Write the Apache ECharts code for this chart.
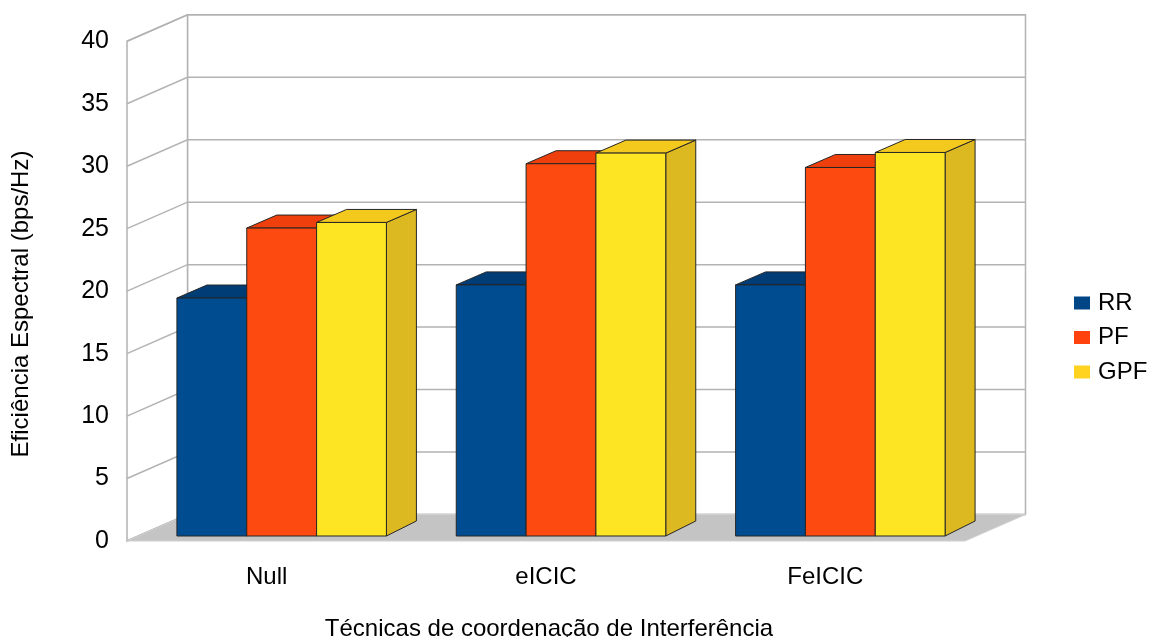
<!DOCTYPE html>
<html>
<head>
<meta charset="utf-8">
<title>Eficiência Espectral</title>
<script src="https://cdn.jsdelivr.net/npm/echarts@6/dist/echarts.min.js"></script>
<style>
  html, body { margin: 0; padding: 0; background: #fff; }
  #chart { width: 1154px; height: 637px; }
</style>
</head>
<body>
<div id="chart"></div>
<script>
// Chart data
const categories = ['Null', 'eICIC', 'FeICIC'];
const seriesNames = ['RR', 'PF', 'GPF'];
const rrValues = [19.05, 20.1, 20.1];
const pfValues = [24.65, 29.8, 29.5];
const gpfValues = [25.1, 30.65, 30.7];
const yTicks = [0, 5, 10, 15, 20, 25, 30, 35, 40];
const xTitle = 'Técnicas de coordenação de Interferência';
const yTitle = 'Eficiência Espectral (bps/Hz)';

// Shading of the three visible faces of each box
const palette = [
  { legend: '#004586', front: '#004c91', top: '#003d76', side: '#00376a' },
  { legend: '#ff420e', front: '#fd4a10', top: '#ef3f0c', side: '#d23a0b' },
  { legend: '#ffd320', front: '#fde523', top: '#f3c91e', side: '#dcb920' }
];

const FONT = '"Liberation Sans", Arial, sans-serif';
const WALL_DEPTH = [60.5, -26.5];   // receding vector of the chart box
const BAR_SHIFT = [15, -5];         // front face of the bars sits inside the box
const BAR_TOP_DEPTH = [30, -13];
const BAR_BOTTOM_DEPTH = [30, -15];
const LINE = '#b3b3b3';
const EDGE = '#262626';

function plotFrame(api) {
  const band = api.size([1, 0])[0];
  const x0 = api.coord([0, 0])[0] - band / 2;
  const x1 = api.coord([categories.length - 1, 0])[0] + band / 2;
  const y0 = api.coord([0, yTicks[0]])[1];
  const yMax = api.coord([0, yTicks[yTicks.length - 1]])[1];
  return { band, x0, x1, y0, yMax };
}

// Back wall, side wall and floor
function renderBox(params, api) {
  const f = plotFrame(api);
  const [dx, dy] = WALL_DEPTH;
  const children = [
    {
      type: 'polygon',
      shape: { points: [[f.x0 + dx, f.yMax + dy], [f.x1 + dx, f.yMax + dy], [f.x1 + dx, f.y0 + dy], [f.x0 + dx, f.y0 + dy]] },
      style: { fill: '#ffffff', stroke: LINE, lineWidth: 1.5 }
    },
    {
      type: 'polygon',
      shape: { points: [[f.x0, f.y0], [f.x0, f.yMax], [f.x0 + dx, f.yMax + dy], [f.x0 + dx, f.y0 + dy]] },
      style: { fill: '#ffffff', stroke: LINE, lineWidth: 1.5 }
    }
  ];
  yTicks.forEach(function (t) {
    const y = api.coord([0, t])[1];
    children.push({
      type: 'polyline',
      shape: { points: [[f.x0, y], [f.x0 + dx, y + dy], [f.x1 + dx, y + dy]] },
      style: { stroke: LINE, lineWidth: 1.5, fill: null }
    });
  });
  children.push({
    type: 'polygon',
    shape: { points: [[f.x0, f.y0], [f.x1, f.y0], [f.x1 + dx, f.y0 + dy], [f.x0 + dx, f.y0 + dy]] },
    style: { fill: '#c4c4c4', stroke: '#d0d0d0', lineWidth: 1 }
  });
  return { type: 'group', children: children };
}

// One 3D box per value
function makeBarRenderer(seriesIdx) {
  const col = palette[seriesIdx];
  return function (params, api) {
    const cat = api.value(0);
    const val = api.value(1);
    const band = api.size([1, 0])[0];
    const barW = band * 0.25;
    const center = api.coord([cat, 0]);
    const topPt = api.coord([cat, val]);
    const xL = center[0] - 1.5 * barW + seriesIdx * barW + BAR_SHIFT[0];
    const xR = xL + barW;
    const yB = center[1] + BAR_SHIFT[1];
    const yT = topPt[1] + BAR_SHIFT[1];
    const [tx, ty] = BAR_TOP_DEPTH;
    const [bx, by] = BAR_BOTTOM_DEPTH;
    return {
      type: 'group',
      children: [
        {
          type: 'polygon',
          shape: { points: [[xR, yT], [xR + tx, yT + ty], [xR + bx, yB + by], [xR, yB]] },
          style: { fill: col.side, stroke: EDGE, lineWidth: 1 }
        },
        {
          type: 'polygon',
          shape: { points: [[xL, yT], [xR, yT], [xR + tx, yT + ty], [xL + tx, yT + ty]] },
          style: { fill: col.top, stroke: EDGE, lineWidth: 1 }
        },
        {
          type: 'rect',
          shape: { x: xL, y: yT, width: barW, height: yB - yT },
          style: { fill: col.front, stroke: EDGE, lineWidth: 1 }
        }
      ]
    };
  };
}

const valueSets = [rrValues, pfValues, gpfValues];

const barSeries = seriesNames.map(function (name, i) {
  return {
    name: name,
    type: 'custom',
    renderItem: makeBarRenderer(i),
    clip: false,
    itemStyle: { color: palette[i].legend },
    encode: { x: 0, y: 1 },
    data: valueSets[i].map(function (v, c) { return [c, v]; }),
    z: 10
  };
});

const chart = echarts.init(document.getElementById('chart'), null, { renderer: 'canvas' });

chart.setOption({
  animation: false,
  backgroundColor: '#ffffff',
  textStyle: { fontFamily: FONT },
  grid: { left: 127, right: 189, top: 41.3, bottom: 96 },
  xAxis: {
    type: 'category',
    data: categories,
    axisLine: { show: false },
    axisTick: { show: false },
    splitLine: { show: false },
    axisLabel: { color: '#000', fontSize: 24, fontFamily: FONT, margin: 24 }
  },
  yAxis: {
    type: 'value',
    min: yTicks[0],
    max: yTicks[yTicks.length - 1],
    interval: yTicks[1] - yTicks[0],
    axisLine: { show: false },
    axisTick: { show: false },
    splitLine: { show: false },
    axisLabel: { color: '#000', fontSize: 25, fontFamily: FONT, margin: 18 }
  },
  legend: {
    data: seriesNames,
    orient: 'vertical',
    left: 1069,
    top: 286,
    icon: 'rect',
    itemWidth: 16,
    itemHeight: 13,
    itemGap: 10.5,
    textStyle: { color: '#000', fontSize: 24, fontFamily: FONT, padding: [0, 0, 0, 3] }
  },
  graphic: [
    {
      type: 'text',
      x: 549, y: 641,
      style: { text: xTitle, font: '24px ' + FONT, fill: '#000', textAlign: 'center', textVerticalAlign: 'bottom' }
    },
    {
      type: 'text',
      x: 21.5, y: 304,
      rotation: Math.PI / 2,
      style: { text: yTitle, font: '24px ' + FONT, fill: '#000', textAlign: 'center', textVerticalAlign: 'middle' }
    }
  ],
  series: [
    {
      type: 'custom',
      renderItem: renderBox,
      clip: false,
      silent: true,
      data: [[0, 0]],
      z: 1
    }
  ].concat(barSeries)
});
</script>
</body>
</html>
